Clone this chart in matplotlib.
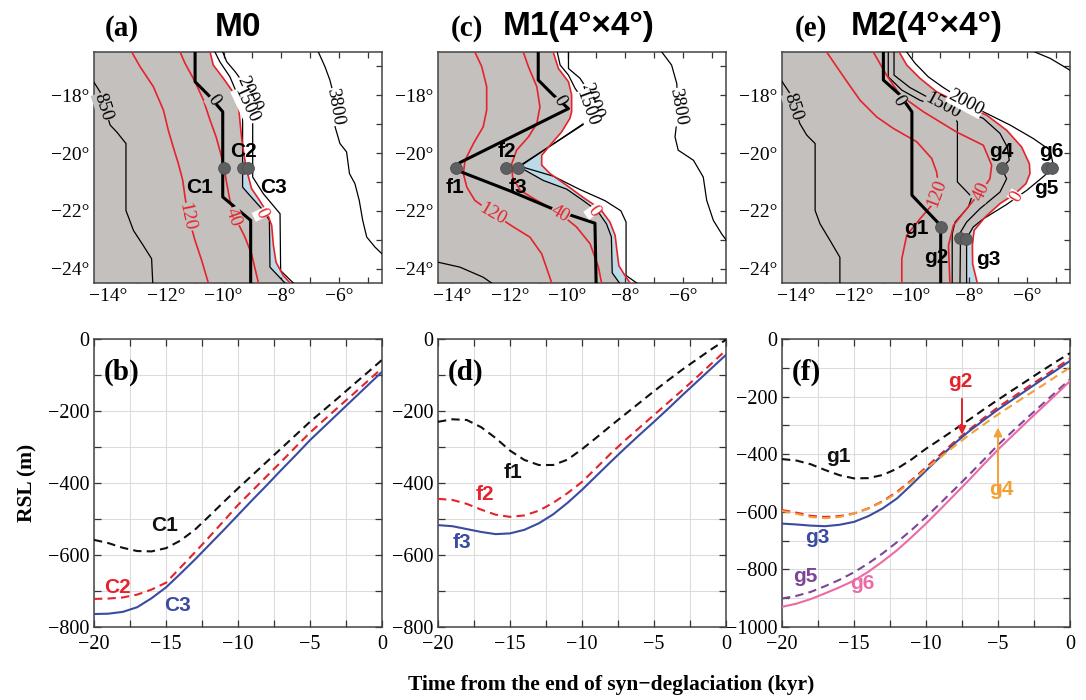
import numpy as np
import matplotlib
matplotlib.use('Agg')
import matplotlib.pyplot as plt
from matplotlib.ticker import MultipleLocator, FuncFormatter

plt.rcParams['font.family'] = ['Liberation Serif', 'DejaVu Serif']
plt.rcParams['axes.unicode_minus'] = True
SANS = ['Liberation Sans', 'DejaVu Sans']

GRAY = '#c4c0be'
LBLUE = '#bcdbe8'
RED = '#e5232b'
DOT = '#5e5f61'

# ---------------- map data (lon, lat) ----------------
# (a) M0
A_850 = [(-14.5, -17.55), (-14.29, -17.88), (-13.94, -19.03), (-13.71, -19.27), (-13.39, -19.67),
         (-13.39, -21.99), (-13.13, -22.68), (-12.79, -23.20), (-12.50, -23.66), (-12.46, -24.5)]
A_1500 = [(-10.30, -16.5), (-10.13, -16.84), (-9.78, -17.36), (-9.49, -18.05), (-9.34, -18.75),
          (-9.34, -21.18), (-9.14, -21.41), (-8.62, -21.99), (-8.41, -22.33), (-8.39, -23.95), (-7.87, -24.5)]
A_2000 = [(-10.03, -16.5), (-9.89, -16.84), (-9.60, -17.18), (-9.26, -17.65), (-9.03, -18.17), (-8.99, -18.98),
          (-8.99, -20.83), (-8.62, -21.41), (-8.04, -22.10), (-8.02, -24.07), (-7.58, -24.5)]
A_3800 = [(-6.71, -16.5), (-6.48, -17.01), (-6.31, -17.47), (-6.13, -18.17), (-6.13, -19.09), (-5.96, -19.67),
          (-5.73, -19.96), (-5.63, -20.71), (-5.44, -21.06), (-5.29, -21.64), (-5.17, -22.33), (-5.03, -22.91),
          (-4.74, -23.26), (-4.5, -23.49)]
A_RED120 = [(-13.19, -16.5), (-12.90, -17.01), (-12.44, -17.70), (-12.09, -18.51), (-11.92, -19.21),
            (-11.75, -19.79), (-11.57, -20.37), (-11.42, -20.94), (-11.34, -21.52), (-11.22, -22.22),
            (-10.99, -23.03), (-10.76, -23.72), (-10.53, -24.5)]
A_RED40 = [(-11.51, -16.5), (-11.34, -16.89), (-10.99, -17.53), (-10.70, -18.17), (-10.47, -18.86),
           (-10.26, -19.44), (-10.10, -20.02), (-9.99, -20.48), (-9.89, -21.06), (-9.78, -21.64),
           (-9.60, -22.22), (-9.26, -22.91), (-9.03, -23.49), (-8.79, -24.5)]
A_RED0 = [(-10.47, -16.5), (-10.36, -16.95), (-10.01, -17.41), (-9.72, -17.82), (-9.49, -18.28), (-9.43, -18.92),
          (-9.37, -19.50), (-9.29, -20.08), (-9.18, -20.66), (-9.03, -21.23), (-8.79, -21.58), (-8.50, -22.04),
          (-8.33, -22.51), (-8.27, -23.20), (-8.18, -23.78), (-7.93, -24.24), (-7.69, -24.5)]
A_ICE0 = [(-10.99, -16.5), (-10.99, -17.53), (-10.53, -17.99), (-10.03, -18.57), (-10.03, -21.52),
          (-9.06, -22.33), (-9.06, -24.5)]
A_SHELF = [(-10.47, -16.5), (-10.36, -16.95), (-10.01, -17.41), (-9.72, -17.82), (-9.49, -18.28),
           (-9.43, -18.92), (-9.37, -19.50), (-9.34, -19.8), (-9.34, -21.18), (-9.14, -21.41), (-8.62, -21.99),
           (-8.41, -22.33), (-8.39, -23.95), (-7.87, -24.5)]
A_SITES = ['C1', 'C2', 'C3']
A_SITE_LON = [-10.0, -9.34, -9.15]
A_SITE_LAT = [-20.5, -20.5, -20.5]
A_SITE_TXT = [(-10.85, -21.2), (-9.3, -19.95), (-8.27, -21.2)]
A_LABELS = [('850', -14.18, -18.40, -72, 'k', GRAY), ('120', -11.28, -22.22, -78, RED, GRAY),
            ('40', -9.66, -22.22, -70, RED, GRAY), ('0', -10.36, -18.17, -55, 'k', GRAY),
            ('0', -8.68, -22.10, -65, RED, 'white'), ('2000', -9.12, -17.95, -65, 'k', 'white'),
            ('1500', -9.22, -18.35, -65, 'k', 'white'), ('3800', -6.13, -18.40, -80, 'k', 'white')]

# (c) M1
C_850 = [(-14.5, -23.78), (-13.74, -23.95), (-12.93, -24.30), (-12.64, -24.5)]
C_1500 = [(-10.36, -16.5), (-10.26, -16.95), (-9.97, -17.30), (-9.74, -17.76), (-9.45, -18.17), (-9.34, -18.69),
          (-9.45, -18.98), (-11.68, -20.48), (-10.84, -20.95), (-10.03, -21.25), (-9.45, -21.65), (-8.95, -22.02),
          (-8.65, -22.45), (-8.48, -22.9), (-8.45, -24.15), (-8.2, -24.5)]
C_2000 = [(-9.97, -16.5), (-9.97, -17.07), (-9.57, -17.41), (-9.22, -17.94), (-9.11, -18.51), (-9.22, -18.86),
          (-11.68, -20.45), (-10.5, -20.8), (-9.6, -21.25), (-8.7, -21.65), (-8.15, -22.0), (-7.97, -22.39),
          (-7.97, -24.24), (-7.60, -24.5)]
C_3800 = [(-6.73, -16.5), (-6.39, -16.95), (-6.21, -17.59), (-6.16, -18.51), (-6.27, -19.44), (-6.16, -19.90),
          (-5.63, -20.25), (-5.29, -20.83), (-5.17, -21.64), (-4.94, -22.33), (-4.65, -22.80), (-4.48, -23.03)]
C_RED120 = [(-13.22, -16.5), (-12.98, -17.01), (-12.81, -17.70), (-12.81, -18.51), (-12.93, -19.09),
            (-13.27, -19.67), (-13.56, -20.25), (-13.62, -20.71), (-13.50, -21.18), (-13.22, -21.64),
            (-12.58, -22.10), (-11.88, -22.56), (-11.31, -22.91), (-10.90, -23.49), (-10.55, -24.5)]
C_RED40 = [(-11.54, -16.5), (-11.36, -17.01), (-11.07, -17.70), (-10.96, -18.40), (-11.07, -18.98),
           (-11.36, -19.44), (-11.77, -19.90), (-11.94, -20.37), (-11.91, -20.83), (-11.65, -21.29),
           (-11.07, -21.64), (-10.26, -22.10), (-9.69, -22.56), (-9.22, -23.14), (-8.93, -23.95), (-8.82, -24.5)]
C_RED0 = [(-10.50, -16.5), (-10.32, -17.07), (-9.97, -17.53), (-9.86, -17.99), (-9.86, -18.57), (-9.92, -18.80),
          (-10.21, -19.27), (-10.61, -19.73), (-10.90, -20.08), (-10.90, -20.42), (-10.61, -20.71),
          (-10.03, -21.12), (-9.40, -21.58), (-8.87, -21.93), (-8.53, -22.39), (-8.35, -22.85), (-8.28, -23.43),
          (-8.22, -23.90), (-8.01, -24.24), (-7.83, -24.5)]
C_ICE0 = [(-11.02, -16.5), (-11.02, -17.47), (-10.50, -17.99), (-9.97, -18.46), (-13.74, -20.33),
          (-13.85, -20.50), (-13.68, -20.66), (-12.00, -21.31), (-10.38, -21.99), (-9.05, -22.43), (-9.01, -24.5)]
C_SHELF = [(-10.50, -16.5), (-10.32, -17.07), (-9.97, -17.53), (-9.86, -17.99), (-9.86, -18.57), (-9.92, -18.80),
           (-10.21, -19.27), (-10.61, -19.73), (-11.68, -20.48), (-10.84, -20.95), (-10.03, -21.25),
           (-9.45, -21.65), (-8.95, -22.02), (-8.65, -22.45), (-8.48, -22.9), (-8.45, -24.15), (-8.2, -24.5)]
C_SITES = ['f1', 'f2', 'f3']
C_SITE_LON = [-13.88, -12.15, -11.73]
C_SITE_LAT = [-20.5, -20.5, -20.5]
C_SITE_TXT = [(-13.9, -21.18), (-12.12, -19.96), (-11.71, -21.18)]
C_LABELS = [('0', -10.29, -18.19, -60, 'k', GRAY), ('120', -12.58, -22.10, -30, RED, GRAY),
            ('40', -10.26, -22.10, -30, RED, GRAY), ('0', -9.11, -22.0, -55, RED, 'white'),
            ('2000', -9.15, -18.2, -70, 'k', 'white'), ('1500', -9.32, -18.45, -70, 'k', 'white'),
            ('3800', -6.16, -18.40, -80, 'k', 'white')]

# (e) M2
E_850 = [(-14.5, -17.52), (-14.22, -17.94), (-13.88, -18.98), (-13.64, -19.38), (-13.35, -19.67),
         (-13.35, -21.99), (-13.18, -22.45), (-12.83, -23.03), (-12.49, -23.61), (-12.49, -24.5)]
E_1000 = [(-10.81, -16.5), (-10.81, -17.36), (-10.34, -17.82), (-9.71, -18.17), (-8.78, -18.51), (-8.41, -18.92),
          (-8.41, -21.00), (-7.91, -21.52), (-8.03, -21.87), (-8.49, -22.39), (-8.59, -22.80), (-8.59, -24.5)]
E_1500 = [(-10.61, -16.5), (-10.61, -17.30), (-10.06, -17.73), (-9.25, -18.17), (-8.32, -18.46), (-7.51, -18.80),
          (-6.93, -19.32), (-6.68, -19.79), (-6.61, -20.25), (-6.87, -20.52), (-6.70, -20.89), (-6.93, -21.35),
          (-7.63, -21.93), (-8.09, -22.39), (-8.30, -22.74), (-8.32, -24.5)]
E_2000 = [(-10.17, -16.5), (-9.88, -16.89), (-9.42, -17.36), (-8.90, -17.73), (-8.20, -18.17), (-7.51, -18.57),
          (-6.58, -19.03), (-5.77, -19.50), (-5.19, -19.90), (-5.08, -20.42), (-5.37, -20.77), (-6.00, -21.29),
          (-6.70, -21.78), (-7.51, -22.28), (-7.86, -22.56), (-8.03, -22.85), (-8.09, -23.20), (-8.09, -24.5)]
E_3800 = [(-5.72, -16.5), (-5.19, -16.72), (-4.5, -17.13)]
E_RED120 = [(-12.95, -16.5), (-12.60, -17.01), (-12.20, -17.59), (-11.79, -18.17), (-11.21, -18.75),
            (-10.63, -19.15), (-9.82, -19.61), (-9.30, -20.19), (-9.13, -20.66), (-9.07, -21.18), (-9.25, -21.75),
            (-9.71, -22.28), (-10.17, -22.85), (-10.34, -23.66), (-10.34, -24.5)]
E_RED40 = [(-11.33, -16.5), (-10.87, -17.30), (-10.40, -17.99), (-9.59, -18.57), (-8.44, -19.27), (-7.51, -19.73),
           (-7.22, -20.42), (-7.28, -20.89), (-7.51, -21.23), (-8.09, -21.93), (-8.55, -22.51), (-8.72, -23.20),
           (-8.67, -24.5)]
E_RED0 = [(-10.43, -16.5), (-10.17, -16.95), (-9.71, -17.41), (-9.13, -17.88), (-8.32, -18.28), (-7.39, -18.69),
          (-6.70, -19.21), (-6.18, -19.79), (-5.91, -20.37), (-5.89, -20.71), (-6.03, -21.06), (-6.41, -21.41),
          (-6.93, -21.75), (-7.45, -22.22), (-7.83, -22.68), (-7.89, -23.20), (-7.88, -23.84), (-7.72, -24.5)]
E_ICE0 = [(-10.98, -16.5), (-10.98, -17.47), (-10.40, -17.99), (-9.99, -18.57), (-9.99, -21.46),
          (-8.99, -22.51), (-8.99, -24.5)]
E_SHELF = [(-10.43, -16.5), (-10.17, -16.95), (-9.71, -17.41), (-9.13, -17.88), (-8.32, -18.28), (-7.39, -18.69),
           (-6.70, -19.21), (-6.18, -19.79), (-5.91, -20.37), (-5.89, -20.71), (-6.03, -21.06), (-6.41, -21.41),
           (-6.93, -21.75), (-7.45, -22.22), (-7.86, -22.56), (-8.03, -22.85), (-8.09, -23.20), (-8.09, -24.5)]
E_SITES = ['g1', 'g2', 'g3', 'g4', 'g5', 'g6']
E_SITE_LON = [-8.97, -8.32, -8.12, -6.87, -5.31, -5.14]
E_SITE_LAT = [-22.56, -22.93, -22.98, -20.5, -20.5, -20.5]
E_SITE_TXT = [(-9.82, -22.62), (-9.13, -23.62), (-7.34, -23.68), (-6.87, -19.96), (-5.31, -21.23), (-5.14, -19.96)]
E_LABELS = [('850', -14.11, -18.40, -72, 'k', GRAY), ('0', -10.46, -18.2, -60, 'k', GRAY),
            ('1500', -8.92, -18.36, -28, 'k', GRAY), ('2000', -8.12, -18.25, -28, 'k', 'white'),
            ('120', -9.11, -21.38, 70, RED, GRAY), ('40', -7.58, -21.35, 65, RED, GRAY),
            ('0', -6.35, -21.52, 60, RED, 'white')]

# ---------------- RSL curves (m) ----------------
TIME = np.arange(-20, 1)
C1 = [-558, -567, -580, -589, -590, -581, -560, -530, -492, -453, -415, -378, -341, -304, -267, -230, -196, -162, -127, -93, -58]
C2 = [-722, -721, -718, -710, -696, -677, -635, -593, -550, -506, -461, -421, -381, -341, -300, -260, -224, -188, -153, -117, -81]
C3 = [-764, -763, -758, -745, -720, -690, -652, -613, -572, -531, -489, -447, -406, -364, -323, -281, -243, -205, -167, -129, -91]

F1 = [-230, -223, -225, -245, -275, -310, -336, -350, -350, -335, -306, -274, -241, -209, -177, -145, -114, -84, -56, -28, -2]
F2 = [-444, -447, -458, -474, -488, -494, -490, -477, -455, -428, -397, -358, -318, -281, -246, -211, -176, -141, -105, -68, -31]
F3 = [-517, -520, -528, -536, -542, -540, -530, -512, -487, -455, -419, -380, -341, -303, -266, -230, -193, -155, -118, -81, -44]

G1 = [-417, -422, -435, -455, -473, -484, -483, -472, -450, -418, -381, -348, -314, -280, -245, -211, -178, -145, -112, -80, -49]
G2 = [-594, -603, -614, -618, -615, -606, -588, -563, -530, -490, -446, -401, -356, -315, -275, -237, -203, -169, -136, -102, -68]
G3 = [-641, -644, -648, -650, -645, -635, -615, -588, -553, -506, -457, -409, -362, -320, -282, -245, -211, -177, -143, -110, -76]
G4 = [-597, -607, -618, -622, -618, -606, -589, -565, -534, -494, -451, -411, -371, -333, -297, -262, -229, -196, -164, -131, -99]
G5 = [-901, -892, -878, -858, -836, -810, -779, -744, -705, -663, -618, -570, -521, -471, -420, -368, -321, -275, -230, -185, -140]
G6 = [-930, -919, -903, -883, -862, -839, -808, -772, -733, -688, -641, -591, -540, -489, -436, -384, -336, -288, -241, -194, -146]

CB, CR, CBL = '#111111', '#e5232b', '#3a4ba0'
COR, CPU, CPK = '#f3a037', '#7d4596', '#ec6aa6'


def deg_fmt(v, pos):
    return '{:.0f}°'.format(v).replace('-', '\u2212')


def draw_map(ax, shelf, red0, thin, reds, ice0, lons, lats, names, txt, labels):
    top, bot = (-14.5, -16.5), (-14.5, -24.5)
    poly = np.array([top] + red0 + [bot])
    ax.fill(poly[:, 0], poly[:, 1], color=LBLUE, lw=0, zorder=1)
    poly = np.array([top] + shelf + [bot])
    ax.fill(poly[:, 0], poly[:, 1], color=GRAY, lw=0, zorder=2)
    for ln in thin:
        a = np.array(ln)
        ax.plot(a[:, 0], a[:, 1], color='k', lw=0.9, zorder=3)
    for ln in reds + [red0]:
        a = np.array(ln)
        ax.plot(a[:, 0], a[:, 1], color=RED, lw=1.2, zorder=4)
    a = np.array(ice0)
    ax.plot(a[:, 0], a[:, 1], color='k', lw=2.2, zorder=5)
    for s, x, y, r, c, bg in labels:
        ax.text(x, y, s, rotation=r, color=c, fontsize=13.5, ha='center', va='center', zorder=6,
                bbox=dict(fc=bg, ec='none', pad=0.2))
    ax.plot(lons, lats, 'o', ms=8.5, color=DOT, mec='#4d4e50', mew=0.6, zorder=7)
    for s, (x, y) in zip(names, txt):
        ax.text(x, y, s, fontsize=15, fontweight='bold', family=SANS, ha='center', va='center', zorder=8)
    ax.set_xlim(-14.5, -4.5)
    ax.set_ylim(-24.5, -16.5)
    ax.xaxis.set_major_locator(MultipleLocator(2))
    ax.xaxis.set_minor_locator(MultipleLocator(1))
    ax.yaxis.set_major_locator(MultipleLocator(2))
    ax.yaxis.set_minor_locator(MultipleLocator(1))
    ax.xaxis.set_major_formatter(FuncFormatter(deg_fmt))
    ax.yaxis.set_major_formatter(FuncFormatter(deg_fmt))
    ax.tick_params(which='both', direction='in', top=True, right=True, length=4, width=0.9,
                   labelsize=14, color='#333333')
    for sp in ax.spines.values():
        sp.set_color('#444444')
        sp.set_linewidth(1.1)


def draw_rsl(ax, ymin, series, texts):
    ax.set_axisbelow(True)
    for y, c, ls in series:
        if ls == '--':
            ax.plot(TIME, y, color=c, lw=1.5, dashes=(4, 2.5), zorder=3)
        else:
            ax.plot(TIME, y, color=c, lw=1.5, zorder=3)
    for s, x, y, c in texts:
        ax.text(x, y, s, color=c, fontsize=15, fontweight='bold', family=SANS, ha='center', va='center')
    ax.set_xlim(-20, 0)
    ax.set_ylim(ymin, 0)
    ax.xaxis.set_major_locator(MultipleLocator(5))
    ax.xaxis.set_minor_locator(MultipleLocator(2.5))
    ax.yaxis.set_major_locator(MultipleLocator(200))
    ax.yaxis.set_minor_locator(MultipleLocator(100))
    ax.grid(which='both', color='#dcdcdc', lw=0.8)
    ax.tick_params(which='both', direction='in', top=True, right=True, length=5, width=0.9,
                   labelsize=14.5, color='#333333')
    ax.tick_params(axis='x', pad=6)
    for sp in ax.spines.values():
        sp.set_color('#444444')
        sp.set_linewidth(1.1)


fig = plt.figure(figsize=(10.86, 7.0), dpi=100)
W, H = 1086.0, 700.0
lefts = [94, 438, 782]
map_axes = [fig.add_axes([l / W, (H - 283) / H, 288 / W, 231 / H]) for l in lefts]
rsl_axes = [fig.add_axes([l / W, (H - 627) / H, 288 / W, 288 / H]) for l in lefts]

draw_map(map_axes[0], A_SHELF, A_RED0, [A_850, A_1500, A_2000, A_3800], [A_RED120, A_RED40], A_ICE0,
         A_SITE_LON, A_SITE_LAT, A_SITES, A_SITE_TXT, A_LABELS)
draw_map(map_axes[1], C_SHELF, C_RED0, [C_850, C_1500, C_2000, C_3800], [C_RED120, C_RED40], C_ICE0,
         C_SITE_LON, C_SITE_LAT, C_SITES, C_SITE_TXT, C_LABELS)
draw_map(map_axes[2], E_SHELF, E_RED0, [E_850, E_1000, E_1500, E_2000, E_3800], [E_RED120, E_RED40], E_ICE0,
         E_SITE_LON, E_SITE_LAT, E_SITES, E_SITE_TXT, E_LABELS)

draw_rsl(rsl_axes[0], -800, [(C1, CB, '--'), (C2, CR, '--'), (C3, CBL, '-')],
         [('C1', -15.07, -517, CB), ('C2', -18.4, -689, CR), ('C3', -14.17, -739, CBL)])
draw_rsl(rsl_axes[1], -800, [(F1, CB, '--'), (F2, CR, '--'), (F3, CBL, '-')],
         [('f1', -14.79, -372, CB), ('f2', -16.74, -433, CR), ('f3', -18.33, -564, CBL)])
draw_rsl(rsl_axes[2], -1000, [(G1, CB, '--'), (G2, CR, '--'), (G3, CBL, '-'), (G4, COR, '--'),
                              (G5, CPU, '--'), (G6, CPK, '-')],
         [('g1', -16.06, -408, CB), ('g2', -7.59, -146, CR), ('g3', -17.56, -688, CBL),
          ('g4', -4.8, -524, COR), ('g5', -18.38, -825, CPU), ('g6', -14.43, -848, CPK)])
axf = rsl_axes[2]
axf.annotate('', xy=(-7.5, -342), xytext=(-7.5, -198),
             arrowprops=dict(arrowstyle='-|>', color=CR, lw=1.4, mutation_scale=12))
axf.annotate('', xy=(-5.0, -298), xytext=(-5.0, -548),
             arrowprops=dict(arrowstyle='-|>', color=COR, lw=1.4, mutation_scale=12))

for ax, lab in zip(rsl_axes, ['(b)', '(d)', '(f)']):
    ax.text(0.035, 0.885, lab, transform=ax.transAxes, fontsize=21, fontweight='bold', va='center', ha='left')

titles = [('(a)', 105, 'M0', 238), ('(c)', 451, 'M1(4°×4°)', 579), ('(e)', 795, 'M2(4°×4°)', 927)]
for lab, xl, ttl, xt in titles:
    fig.text(xl / W, 1 - 28 / H, lab, fontsize=21, fontweight='bold', ha='left', va='center')
    fig.text(xt / W, 1 - 27 / H, ttl, fontsize=24, fontweight='bold', family=SANS, ha='center', va='center')

fig.text(27 / W, 1 - 483 / H, 'RSL (m)', rotation=90, fontsize=15.5, fontweight='bold', ha='center', va='center')
fig.text(611 / W, 1 - 685 / H, 'Time from the end of syn\u2212deglaciation (kyr)', fontsize=15.5,
         fontweight='bold', ha='center', va='center')

fig.savefig('out.png', dpi=100)
